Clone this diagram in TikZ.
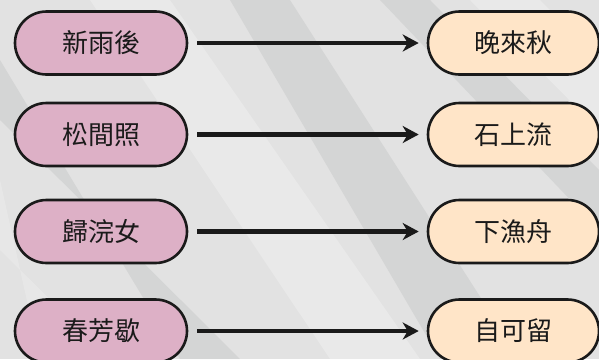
\documentclass[tikz,border=0pt]{standalone}
\usepackage{fontspec}
\newfontfamily\cjk{Noto Sans CJK TC}
\usetikzlibrary{arrows.meta}
\definecolor{bgbase}{RGB}{226,226,226}
\definecolor{bgband}{RGB}{196,198,198}
\definecolor{bglight}{RGB}{240,240,240}
\definecolor{pinkfill}{RGB}{221,176,198}
\definecolor{peachfill}{RGB}{255,229,200}
\definecolor{inkline}{RGB}{26,26,26}
\tikzset{
  pill/.style={draw=inkline, line width=2.6pt, rounded corners=31.5pt,
    minimum height=63pt, inner sep=0pt, font=\cjk\fontsize{26}{26}\selectfont, text=inkline},
  srcpill/.style={pill, fill=pinkfill, minimum width=172pt},
  dstpill/.style={pill, fill=peachfill, minimum width=171pt},
  link/.style={draw=inkline, line width=4.5pt,
    -{Stealth[length=16pt,width=17pt,inset=5pt]}, shorten <=9pt, shorten >=8pt},
  band/.style={fill=bgband, opacity=0.45}
}
\begin{document}
\begin{tikzpicture}[x=1pt,y=-1pt]
\useasboundingbox (0,0) rectangle (599,359);
\fill[bgbase] (0,0) rectangle (599,359);
\begin{scope}
\clip (0,0) rectangle (599,359);
\fill[band] (230,0) -- (290,0) -- (520,359) -- (440,359) -- cycle;
\fill[band] (380,0) -- (430,0) -- (599,170) -- (599,230) -- cycle;
\fill[band] (0,60) -- (0,120) -- (240,359) -- (180,359) -- cycle;
\fill[bglight, opacity=0.5] (90,0) -- (170,0) -- (420,359) -- (330,359) -- cycle;
\fill[bglight, opacity=0.5] (470,0) -- (540,0) -- (599,60) -- (599,130) -- cycle;
\fill[bglight, opacity=0.4] (0,180) -- (0,250) -- (110,359) -- (40,359) -- cycle;
\end{scope}
\node[srcpill] (a1) at (101,43) {新雨後};
\node[srcpill] (a2) at (101,134.5) {松間照};
\node[srcpill] (a3) at (101,231.5) {歸浣女};
\node[srcpill] (a4) at (101,331) {春芳歇};
\node[dstpill] (b1) at (513.5,43) {晚來秋};
\node[dstpill] (b2) at (513.5,134.5) {石上流};
\node[dstpill] (b3) at (513.5,231.5) {下漁舟};
\node[dstpill] (b4) at (513.5,331) {自可留};
\draw[link] (a1) -- (b1);
\draw[link] (a2) -- (b2);
\draw[link] (a3) -- (b3);
\draw[link] (a4) -- (b4);
\end{tikzpicture}
\end{document}
